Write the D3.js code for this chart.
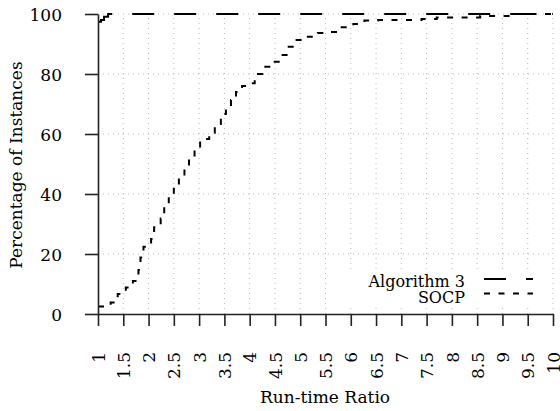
<!DOCTYPE html>
<html>
<head>
<meta charset="utf-8">
<script src="https://cdn.jsdelivr.net/npm/d3@7"></script>
<style>
  html, body { margin: 0; padding: 0; background: white; }
  svg { display: block; font-family: 'DejaVu Serif', serif; }
</style>
</head>
<body>
<svg id="chart" width="560" height="411"></svg>
<script>
// Tick values on both axes
const xTicks = [1, 1.5, 2, 2.5, 3, 3.5, 4, 4.5, 5, 5.5, 6, 6.5, 7, 7.5, 8, 8.5, 9, 9.5, 10];
const yTicks = [0, 20, 40, 60, 80, 100];

// Performance profile of Algorithm 3 (run-time ratio, percentage of instances)
const algRatio = [1, 1.06, 1.12, 1.2, 10];
const algPct = [97.4, 98, 99.1, 100, 100];

// Performance profile of SOCP
const socpRatio = [1, 1.25, 1.39, 1.55, 1.69, 1.8, 1.84, 1.9, 2.05, 2.11, 2.24, 2.31, 2.4, 2.5, 2.6, 2.71,
  2.8, 2.91, 3.02, 3.2, 3.31, 3.43, 3.53, 3.63, 3.73, 3.85, 3.95, 4.02, 4.1, 4.25, 4.44, 4.6, 4.73, 4.88,
  5.11, 5.35, 5.59, 5.82, 6.05, 6.27, 6.54, 7.4, 7.7, 8.56, 9.28, 10];
const socpPct = [2.5, 3.8, 6.7, 8.8, 11, 14.7, 18.8, 22.4, 25, 28.9, 31.8, 35.6, 39.1, 42.4, 45.6, 48.9,
  52.2, 55.2, 58.3, 60.4, 63.3, 66.7, 68.7, 71.3, 74, 76, 76.7, 76.9, 80, 82.4, 84.1, 86.3, 89.1, 91.3,
  92.4, 93.7, 94, 95.6, 96.7, 97.8, 98, 98.3, 98.8, 99.3, 100, 100];

const series = [
  { name: 'Algorithm 3', x: algRatio, y: algPct, dash: '22,20' },
  { name: 'SOCP', x: socpRatio, y: socpPct, dash: '6,8.5' }
];

const svg = d3.select('#chart');
const fontSize = 17;

const x = d3.scaleLinear().domain([1, 10]).range([98, 553]);
const y = d3.scaleLinear().domain([0, 100]).range([314, 14]);

// Dotted grid
const grid = svg.append('g').attr('class', 'grid')
  .attr('stroke', '#b8b8b8').attr('stroke-width', 1).attr('stroke-dasharray', '1,4');
grid.selectAll('line.v')
  .data(xTicks.filter(d => d > 1))
  .join('line')
  .attr('class', 'v')
  .attr('x1', d => x(d)).attr('x2', d => x(d))
  .attr('y1', y(0)).attr('y2', y(100));
grid.selectAll('line.h')
  .data(yTicks.filter(d => d > 0))
  .join('line')
  .attr('class', 'h')
  .attr('x1', x(1)).attr('x2', x(10))
  .attr('y1', d => y(d)).attr('y2', d => y(d));

// Curves are step functions
const line = d3.line()
  .x(d => x(d[0]))
  .y(d => y(d[1]))
  .curve(d3.curveStepAfter);

svg.append('g').attr('class', 'curves')
  .selectAll('path')
  .data(series)
  .join('path')
  .attr('fill', 'none')
  .attr('stroke', '#000')
  .attr('stroke-width', 2)
  .attr('stroke-dasharray', d => d.dash)
  .attr('d', d => line(d.x.map((v, i) => [v, d.y[i]])));

// Axes
const yAxis = svg.append('g')
  .attr('transform', `translate(${x(1)},0)`)
  .call(d3.axisLeft(y).tickValues(yTicks).tickSize(13).tickSizeOuter(0).tickPadding(23));

const xAxis = svg.append('g')
  .attr('transform', `translate(0,${y(0)})`)
  .call(d3.axisBottom(x).tickValues(xTicks).tickSize(12).tickSizeOuter(0).tickFormat(d3.format('~g')));

[xAxis, yAxis].forEach(ax => {
  ax.select('.domain').attr('stroke', '#222').attr('stroke-width', 1.6);
  ax.selectAll('.tick line').attr('stroke', '#222').attr('stroke-width', 1.6);
  ax.selectAll('.tick text')
    .attr('fill', '#000')
    .style('font-size', fontSize + 'px')
    .style('font-family', "'DejaVu Serif', serif");
});

yAxis.selectAll('.tick text').attr('dy', '0.4em');

// x tick labels are turned to read upwards
xAxis.selectAll('.tick text')
  .attr('text-anchor', 'end')
  .attr('transform', 'rotate(-90)')
  .attr('x', -38)
  .attr('y', 0)
  .attr('dy', '0.36em');

// Axis titles
svg.append('text')
  .attr('x', 325).attr('y', 403)
  .attr('text-anchor', 'middle')
  .style('font-size', fontSize + 'px')
  .attr('fill', '#000')
  .text('Run-time Ratio');

svg.append('text')
  .attr('transform', 'translate(22,165) rotate(-90)')
  .attr('text-anchor', 'middle')
  .style('font-size', fontSize + 'px')
  .attr('fill', '#000')
  .text('Percentage of Instances');

// Legend with an opaque box
const legend = svg.append('g').attr('class', 'legend');
legend.append('rect')
  .attr('x', 347).attr('y', 271).attr('width', 199).attr('height', 36)
  .attr('fill', 'white');

const rows = legend.selectAll('g.row')
  .data(series)
  .join('g')
  .attr('class', 'row')
  .attr('transform', (d, i) => `translate(0,${279 + i * 14.5})`);

rows.append('text')
  .attr('x', 465).attr('y', (d, i) => 2 + i * 1.5)
  .attr('dy', '0.35em')
  .attr('text-anchor', 'end')
  .style('font-size', '16px')
  .attr('fill', '#000')
  .text(d => d.name);

rows.append('line')
  .attr('x1', 484).attr('x2', 533)
  .attr('y1', 0).attr('y2', 0)
  .attr('stroke', '#000')
  .attr('stroke-width', 2)
  .attr('stroke-dasharray', d => d.dash);
</script>
</body>
</html>
